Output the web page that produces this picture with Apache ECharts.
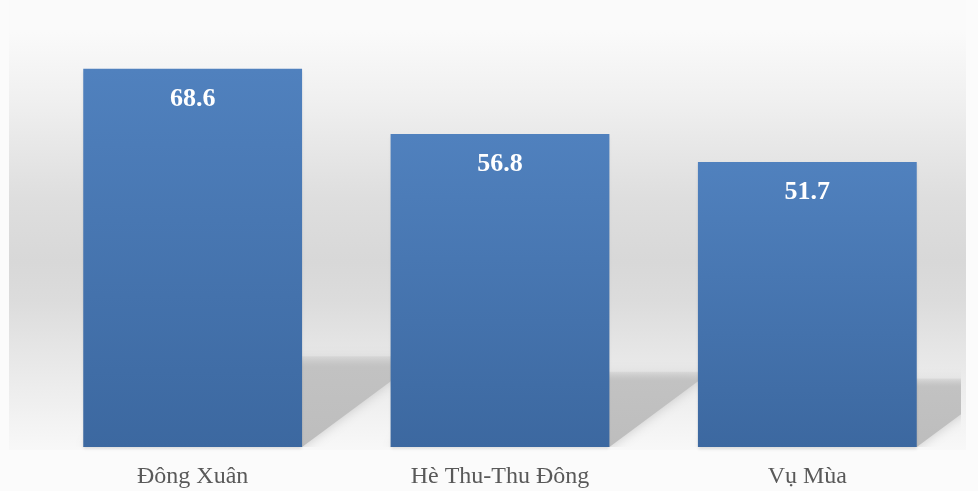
<!DOCTYPE html>
<html>
<head>
<meta charset="utf-8">
<script src="https://cdn.jsdelivr.net/npm/echarts@6/dist/echarts.min.js"></script>
<style>
html,body{margin:0;padding:0;background:#fbfbfb;}
#chart{width:978px;height:491px;}
</style>
</head>
<body>
<div id="chart"></div>
<script>
var categories = ['Đông Xuân', 'Hè Thu-Thu Đông', 'Vụ Mùa'];
var values = [68.6, 56.8, 51.7];

var chart = echarts.init(document.getElementById('chart'), null, {renderer: 'canvas'});
var BAR_FRAC = 0.712;

chart.setOption({
  backgroundColor: '#fbfbfb',
  animation: false,
  graphic: [{
    type: 'rect',
    z: -10,
    silent: true,
    shape: {x: 9, y: 0, width: 957, height: 450},
    style: {
      fill: new echarts.graphic.LinearGradient(0, 0, 0, 1, [
        {offset: 0, color: '#fafafa'},
        {offset: 0.07, color: '#fafafa'},
        {offset: 0.22, color: '#f0f0f0'},
        {offset: 0.44, color: '#dedede'},
        {offset: 0.58, color: '#d8d8d8'},
        {offset: 0.67, color: '#dcdcdc'},
        {offset: 0.78, color: '#e6e6e6'},
        {offset: 0.89, color: '#efefef'},
        {offset: 1, color: '#f8f8f8'}
      ])
    }
  }],
  grid: {left: 39, right: 17, top: 6, bottom: 44, containLabel: false},
  xAxis: {
    type: 'category',
    data: categories,
    axisLine: {show: false},
    axisTick: {show: false},
    axisLabel: {
      color: '#595959',
      fontFamily: 'Liberation Serif',
      fontSize: 24,
      margin: 18
    }
  },
  yAxis: {
    type: 'value',
    min: 0,
    max: 80,
    show: false,
    splitLine: {show: false}
  },
  series: [{
    type: 'custom',
    clip: true,
    z: 1,
    silent: true,
    data: values.map(function (v, i) { return [i, v]; }),
    renderItem: function (params, api) {
      var i = api.value(0);
      var top = api.coord([i, api.value(1)]);
      var base = api.coord([i, 0]);
      var band = api.size([1, 0])[0];
      var w = band * BAR_FRAC;
      var xL = top[0] - w / 2, xR = top[0] + w / 2;
      var h = (base[1] - top[1]) * 0.24;
      var dx = h * 1.35;
      return {
        type: 'polygon',
        shape: {points: [[xL, base[1]], [xR, base[1]], [xR + dx, base[1] - h], [xL + dx, base[1] - h]]},
        style: {
          fill: new echarts.graphic.LinearGradient(0, 0, 0, 1, [
            {offset: 0, color: 'rgba(200,200,200,0.4)'},
            {offset: 0.12, color: '#c2c2c2'},
            {offset: 1, color: '#bdbdbd'}
          ]),
          shadowBlur: 12,
          shadowColor: 'rgba(190,190,190,0.8)'
        }
      };
    }
  }, {
    type: 'bar',
    z: 2,
    data: values,
    barWidth: (BAR_FRAC * 100) + '%',
    itemStyle: {
      color: new echarts.graphic.LinearGradient(0, 0, 0, 1, [
        {offset: 0, color: '#5081be'},
        {offset: 1, color: '#3c68a0'}
      ]),
      shadowColor: 'rgba(0,0,0,0.12)',
      shadowBlur: 3,
      shadowOffsetY: 2
    },
    label: {
      show: true,
      position: 'insideTop',
      distance: 17,
      color: '#ffffff',
      fontFamily: 'Liberation Serif',
      fontWeight: 'bold',
      fontSize: 26,
      lineHeight: 26,
      formatter: function (p) { return p.value.toFixed(1); }
    }
  }]
});
</script>
</body>
</html>
